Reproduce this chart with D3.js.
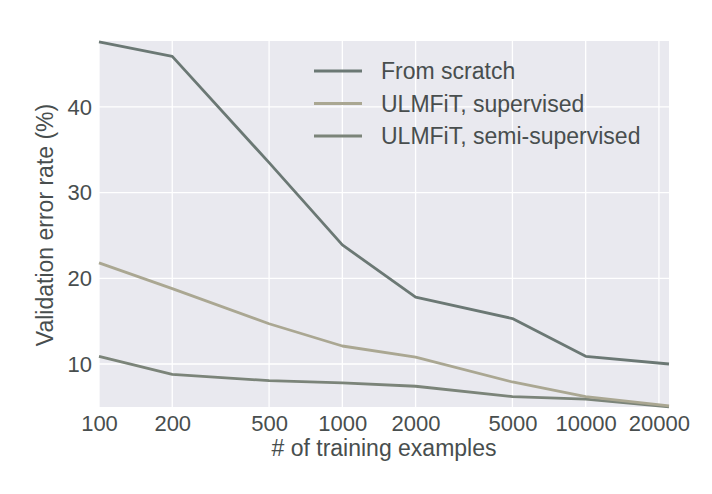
<!DOCTYPE html>
<html>
<head>
<meta charset="utf-8">
<script src="https://cdn.jsdelivr.net/npm/d3@7"></script>
<style>
  body { margin: 0; background: #fff; }
  svg { display: block; }
  text { font-family: "Liberation Sans", Arial, sans-serif; fill: #484e4e; }
</style>
</head>
<body>
<svg id="viz" width="712" height="494"></svg>
<script>
// training set sizes (last point sits a bit past the 20000 tick)
const sizes = [100, 200, 500, 1000, 2000, 5000, 10000, 22000];
const fromScratch = [47.6, 45.9, 33.5, 23.9, 17.8, 15.3, 10.9, 10.0];
const ulmSupervised = [21.8, 18.8, 14.7, 12.1, 10.8, 7.9, 6.2, 5.1];
const ulmSemi = [10.9, 8.8, 8.05, 7.8, 7.4, 6.2, 5.9, 5.0];

const seriesNames = ["From scratch", "ULMFiT, supervised", "ULMFiT, semi-supervised"];
const seriesColors = ["#6b7874", "#aaa792", "#7b8479"];
const xTicks = [100, 200, 500, 1000, 2000, 5000, 10000, 20000];
const yTicks = [10, 20, 30, 40];

const svg = d3.select("#viz");
const plot = {left: 99, right: 669, top: 41, bottom: 407};

const x = d3.scaleLog()
    .domain([100, 22000])
    .range([plot.left, plot.right]);
const y = d3.scaleLinear()
    .domain([4.98, 47.7])
    .range([plot.bottom, plot.top]);

// background
svg.append("rect")
    .attr("x", plot.left)
    .attr("y", plot.top)
    .attr("width", plot.right - plot.left)
    .attr("height", plot.bottom - plot.top)
    .style("fill", "#e9e9ef");

// grid
svg.append("g").selectAll("line")
    .data(xTicks)
    .enter().append("line")
    .attr("x1", d => x(d)).attr("x2", d => x(d))
    .attr("y1", plot.top).attr("y2", plot.bottom)
    .style("stroke", "#fff").style("stroke-width", 1.3);
svg.append("g").selectAll("line")
    .data(yTicks)
    .enter().append("line")
    .attr("x1", plot.left).attr("x2", plot.right)
    .attr("y1", d => y(d)).attr("y2", d => y(d))
    .style("stroke", "#fff").style("stroke-width", 1.3);

// axes - no spines, just labels
const xAxis = svg.append("g")
    .attr("transform", `translate(0,${plot.bottom})`)
    .call(d3.axisBottom(x).tickValues(xTicks).tickFormat(d3.format("d")).tickSize(0).tickPadding(8));
const yAxis = svg.append("g")
    .attr("transform", `translate(${plot.left},0)`)
    .call(d3.axisLeft(y).tickValues(yTicks).tickSize(0).tickPadding(7));
[xAxis, yAxis].forEach(a => {
    a.select(".domain").remove();
    a.selectAll("text")
        .style("font-size", "22px")
        .style("font-family", "'Liberation Sans', Arial, sans-serif")
        .style("fill", "#484e4e");
});

// lines
const allSeries = [fromScratch, ulmSupervised, ulmSemi];
const line = d3.line()
    .x((d, i) => x(sizes[i]))
    .y(d => y(d));

// draw semi first so scratch ends up on top like in the original
[2, 1, 0].forEach(k => {
    svg.append("path")
        .datum(allSeries[k])
        .attr("d", line)
        .style("fill", "none")
        .style("stroke", seriesColors[k])
        .style("stroke-width", 2.8)
        .style("stroke-linejoin", "round");
});

// legend
const legend = svg.append("g");
seriesNames.forEach((name, i) => {
    const ly = 71 + i * 32.5;
    legend.append("line")
        .attr("x1", 314).attr("x2", 362)
        .attr("y1", ly).attr("y2", ly)
        .style("stroke", seriesColors[i])
        .style("stroke-width", 2.8);
    legend.append("text")
        .attr("x", 381)
        .attr("y", ly)
        .attr("dy", "0.36em")
        .style("font-size", "23px")
        .text(name);
});

// axis titles
svg.append("text")
    .attr("x", (plot.left + plot.right) / 2)
    .attr("y", 456)
    .attr("text-anchor", "middle")
    .style("font-size", "23px")
    .text("# of training examples");

svg.append("text")
    .attr("transform", "translate(53,225) rotate(-90)")
    .attr("text-anchor", "middle")
    .style("font-size", "23px")
    .text("Validation error rate (%)");
</script>
</body>
</html>
